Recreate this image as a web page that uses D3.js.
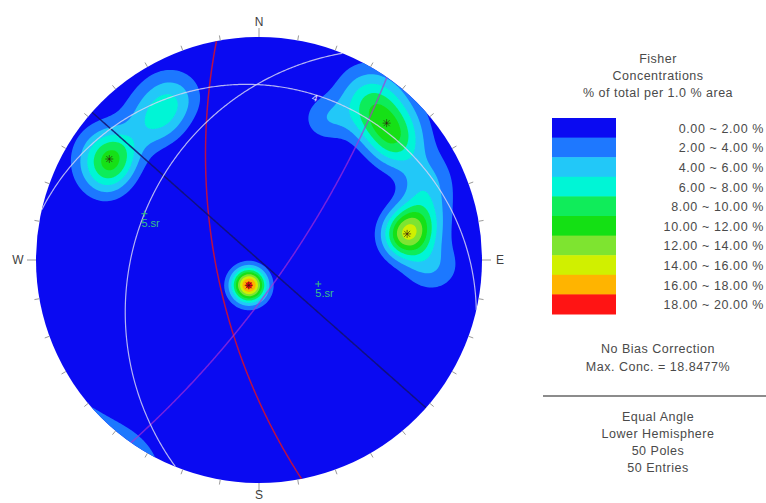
<!DOCTYPE html>
<html>
<head>
<meta charset="utf-8">
<title>Fisher Concentrations</title>
<style>
body { margin: 0; background: #fff; }
text { font-family: "Liberation Sans", Arial, sans-serif; }
.legend text { fill: #4a4a4a; font-size: 12.5px; letter-spacing: 0.5px; text-anchor: middle; }
.legend text.band { text-anchor: end; letter-spacing: 0.6px; }
.tick { stroke: #9a9a9a; stroke-width: 1px; }
.dir { fill: #404040; font-size: 12px; }
.plane { fill: none; }
</style>
</head>
<body>
<script src="https://cdn.jsdelivr.net/npm/d3@7"></script>
<script>

// poles (trend / plunge, degrees)
var poleTrend = [
  202, 209, 196, 206, 197, 203, 201, 193, 210, 199,                 // centre
  80, 77, 84, 81, 76, 83, 78, 93, 80, 77, 71, 66, 62, 92,           // east
  44, 38, 49, 43, 46, 35, 52, 36, 39, 50, 30, 24, 28,               // north-east
  304, 300, 308, 305, 302, 307, 297,                                // north-west
  328, 322, 335, 326, 331, 318                                      // nnw
];
var polePlunge = [
  76, 77, 75, 75, 78, 78, 74, 76, 76, 76,
  22, 24, 21, 26, 20, 24, 18, 17, 21, 17, 13, 12, 10, 12,
  10, 7, 11, 13, 8, 10, 12, 5, 14, 15, 6, 21, 18,
  12, 11, 12, 9, 15, 14, 15,
  13, 11, 12, 17, 9, 16
];

// planes (dip direction / dip)
var planeDipDir = [259, 125, 221.5, 13, 292];
var planeDip = [68, 77, 90, 14, 32];

// set markers
var markTrend = [202, 80, 43, 304];
var markPlunge = [76, 22, 10, 12];

var bandEdges = [0, 2, 4, 6, 8, 10, 12, 14, 16, 18, 20];
var bandColors = ["#0a0af2", "#1e78ff", "#22c8f8", "#00f5d6", "#10ec5a",
                  "#14e014", "#7ee430", "#d0f000", "#ffb400", "#ff1414"];
var maxConc = 18.8477;
var titleLines = ["Fisher", "Concentrations", "% of total per 1.0 % area"];
var noteLines = ["No Bias Correction", "Max. Conc. = 18.8477%"];
var infoLines = ["Equal Angle", "Lower Hemisphere", "50 Poles", "50 Entries"];
var dirLabels = ["N", "E", "S", "W"];

var width = 766, height = 503;
var cx = 259, cy = 260, R = 223;
var K = 100;
var rad = Math.PI / 180;

var svg = d3.select("body").append("svg")
    .attr("width", width)
    .attr("height", height);

function vec(trend, plunge) {
  var t = trend * rad, p = plunge * rad;
  return [Math.cos(p) * Math.sin(t), Math.cos(p) * Math.cos(t), Math.sin(p)];
}

// equal angle, lower hemisphere
function project(v) {
  if (v[2] < 0) v = [-v[0], -v[1], -v[2]];
  var plunge = Math.asin(Math.min(1, v[2])) / rad;
  var trend = Math.atan2(v[0], v[1]);
  var r = R * Math.tan((90 - plunge) / 2 * rad);
  return [cx + r * Math.sin(trend), cy - r * Math.cos(trend)];
}

var poles = poleTrend.map(function(t, i) { return vec(t, polePlunge[i]); });

// fisher density grid
var step = 2, x0 = cx - R - 6, y0 = cy - R - 6;
var n = Math.ceil((2 * R + 12) / step);
var values = new Array(n * n);
for (var j = 0; j < n; j++) {
  for (var i = 0; i < n; i++) {
    var px = (x0 + (i + 0.5) * step - cx) / R,
        py = (y0 + (j + 0.5) * step - cy) / R;
    var th = 2 * Math.atan(Math.sqrt(px * px + py * py)),
        az = Math.atan2(px, -py);
    var v = [Math.sin(th) * Math.sin(az), Math.sin(th) * Math.cos(az), Math.cos(th)];
    var s = 0;
    for (var k = 0; k < poles.length; k++) {
      var p = poles[k];
      var c = Math.abs(v[0] * p[0] + v[1] * p[1] + v[2] * p[2]);
      s += Math.exp(K * (c - 1));
    }
    values[j * n + i] = s * K / poles.length;
  }
}
var norm = maxConc / d3.max(values);
values = values.map(function(d) { return d * norm; });

var color = d3.scaleThreshold()
    .domain(bandEdges.slice(1, -1))
    .range(bandColors);

var contours = d3.contours()
    .size([n, n])
    .thresholds(bandEdges.slice(1, -1))(values);

var gridPath = d3.geoPath(d3.geoIdentity().scale(step).translate([x0, y0]));

var defs = svg.append("defs");
defs.append("clipPath").attr("id", "net")
  .append("circle").attr("cx", cx).attr("cy", cy).attr("r", R);
defs.append("filter").attr("id", "soft")
  .append("feGaussianBlur").attr("stdDeviation", 0.7);

var net = svg.append("g").attr("clip-path", "url(#net)");

net.append("circle")
    .attr("cx", cx).attr("cy", cy).attr("r", R + 2)
    .attr("fill", bandColors[0]);

net.append("g")
    .attr("filter", "url(#soft)")
  .selectAll("path")
  .data(contours)
  .enter().append("path")
    .attr("d", gridPath)
    .attr("fill", function(d) { return color(d.value); });

// great circles
var planeStroke = ["#c4103c", "#b030d4", "#12126e", "#d2d2f4", "#d2d2f4"];
var planeOpacity = [0.95, 0.65, 0.85, 0.85, 0.85];
var line = d3.line();

net.selectAll("path.plane")
  .data(planeDipDir)
  .enter().append("path")
    .attr("class", "plane")
    .attr("d", function(dd, i) {
      var sv = vec(dd - 90, 0), dv = vec(dd, planeDip[i]);
      var pts = d3.range(0, 180.01, 0.5).map(function(a) {
        var ca = Math.cos(a * rad), sa = Math.sin(a * rad);
        return project([ca * sv[0] + sa * dv[0], ca * sv[1] + sa * dv[1], ca * sv[2] + sa * dv[2]]);
      });
      return line(pts);
    })
    .attr("stroke", function(d, i) { return planeStroke[i]; })
    .attr("stroke-opacity", function(d, i) { return planeOpacity[i]; })
    .attr("stroke-width", function(d, i) { return i > 2 ? 1.2 : 1.5; });

// plane labels: "4" at dip vector of plane 4, "5.sr" at dip vector and pole of plane 5
var p4 = project(vec(planeDipDir[3], planeDip[3]));
net.append("text")
    .attr("transform", "translate(" + (p4[0] + 13) + "," + (p4[1] + 10) + ") rotate(18)")
    .attr("fill", "#e8e8ff")
    .style("font-size", "10px")
    .text("4");

var p5 = [project(vec(planeDipDir[4], planeDip[4])),
          project(vec(planeDipDir[4] + 180, 90 - planeDip[4]))];
p5.forEach(function(p) {
  var g = net.append("g").attr("transform", "translate(" + p[0] + "," + p[1] + ")");
  g.append("path").attr("d", "M-3,0H3M0,-3V3").attr("stroke", "#38c080").attr("stroke-width", 1);
  g.append("text").attr("x", -3).attr("y", 13)
    .attr("fill", "#38c088")
    .style("font-size", "11px")
    .text("5.sr");
});

// set markers
net.selectAll("g.mark")
  .data(markTrend)
  .enter().append("g")
    .attr("class", "mark")
    .attr("transform", function(t, i) {
      var p = project(vec(t, markPlunge[i]));
      return "translate(" + p[0] + "," + p[1] + ")";
    })
  .append("path")
    .attr("d", "M-4,0H4M0,-4V4M-3,-3L3,3M-3,3L3,-3")
    .attr("stroke", "#301010")
    .attr("stroke-opacity", 0.6)
    .attr("stroke-width", 1);

// rim ticks
svg.append("g").selectAll("line")
  .data(d3.range(0, 360, 10))
  .enter().append("line")
    .attr("class", "tick")
    .attr("x1", function(a) { return cx + R * Math.sin(a * rad); })
    .attr("y1", function(a) { return cy - R * Math.cos(a * rad); })
    .attr("x2", function(a) { return cx + (R + (a % 90 ? 5 : 9)) * Math.sin(a * rad); })
    .attr("y2", function(a) { return cy - (R + (a % 90 ? 5 : 9)) * Math.cos(a * rad); });

svg.append("g").selectAll("text")
  .data(dirLabels)
  .enter().append("text")
    .attr("class", "dir")
    .attr("text-anchor", "middle")
    .attr("x", function(d, i) { return cx + (R + 18) * Math.sin(i * 90 * rad); })
    .attr("y", function(d, i) {
      return Math.min(height - 4, cy - (R + 15) * Math.cos(i * 90 * rad) + 4);
    })
    .text(function(d) { return d; });

// legend
var legend = svg.append("g").attr("class", "legend");
var lx = 658;

legend.selectAll("text.title")
  .data(titleLines)
  .enter().append("text")
    .attr("class", "title")
    .attr("x", lx)
    .attr("y", function(d, i) { return 63 + i * 17; })
    .text(function(d) { return d; });

var bandH = 19.6, barTop = 118;
legend.selectAll("rect")
  .data(bandColors)
  .enter().append("rect")
    .attr("x", 552)
    .attr("y", function(d, i) { return barTop + i * bandH; })
    .attr("width", 64)
    .attr("height", bandH + 0.5)
    .attr("fill", function(d) { return d; });

legend.selectAll("text.band")
  .data(bandEdges.slice(0, -1))
  .enter().append("text")
    .attr("class", "band")
    .attr("x", 764)
    .attr("y", function(d, i) { return barTop + (i + 0.5) * bandH + 5; })
    .text(function(d, i) {
      return d3.format(".2f")(d) + " ~ " + d3.format(".2f")(bandEdges[i + 1]) + " %";
    });

legend.selectAll("text.note")
  .data(noteLines)
  .enter().append("text")
    .attr("class", "note")
    .attr("x", lx)
    .attr("y", function(d, i) { return 353 + i * 18; })
    .text(function(d) { return d; });

legend.append("line")
    .attr("x1", 543).attr("x2", 766)
    .attr("y1", 396).attr("y2", 396)
    .attr("stroke", "#8c8c8c")
    .attr("stroke-width", 2);

legend.selectAll("text.info")
  .data(infoLines)
  .enter().append("text")
    .attr("class", "info")
    .attr("x", lx)
    .attr("y", function(d, i) { return 421 + i * 17; })
    .text(function(d) { return d; });

</script>
</body>
</html>
